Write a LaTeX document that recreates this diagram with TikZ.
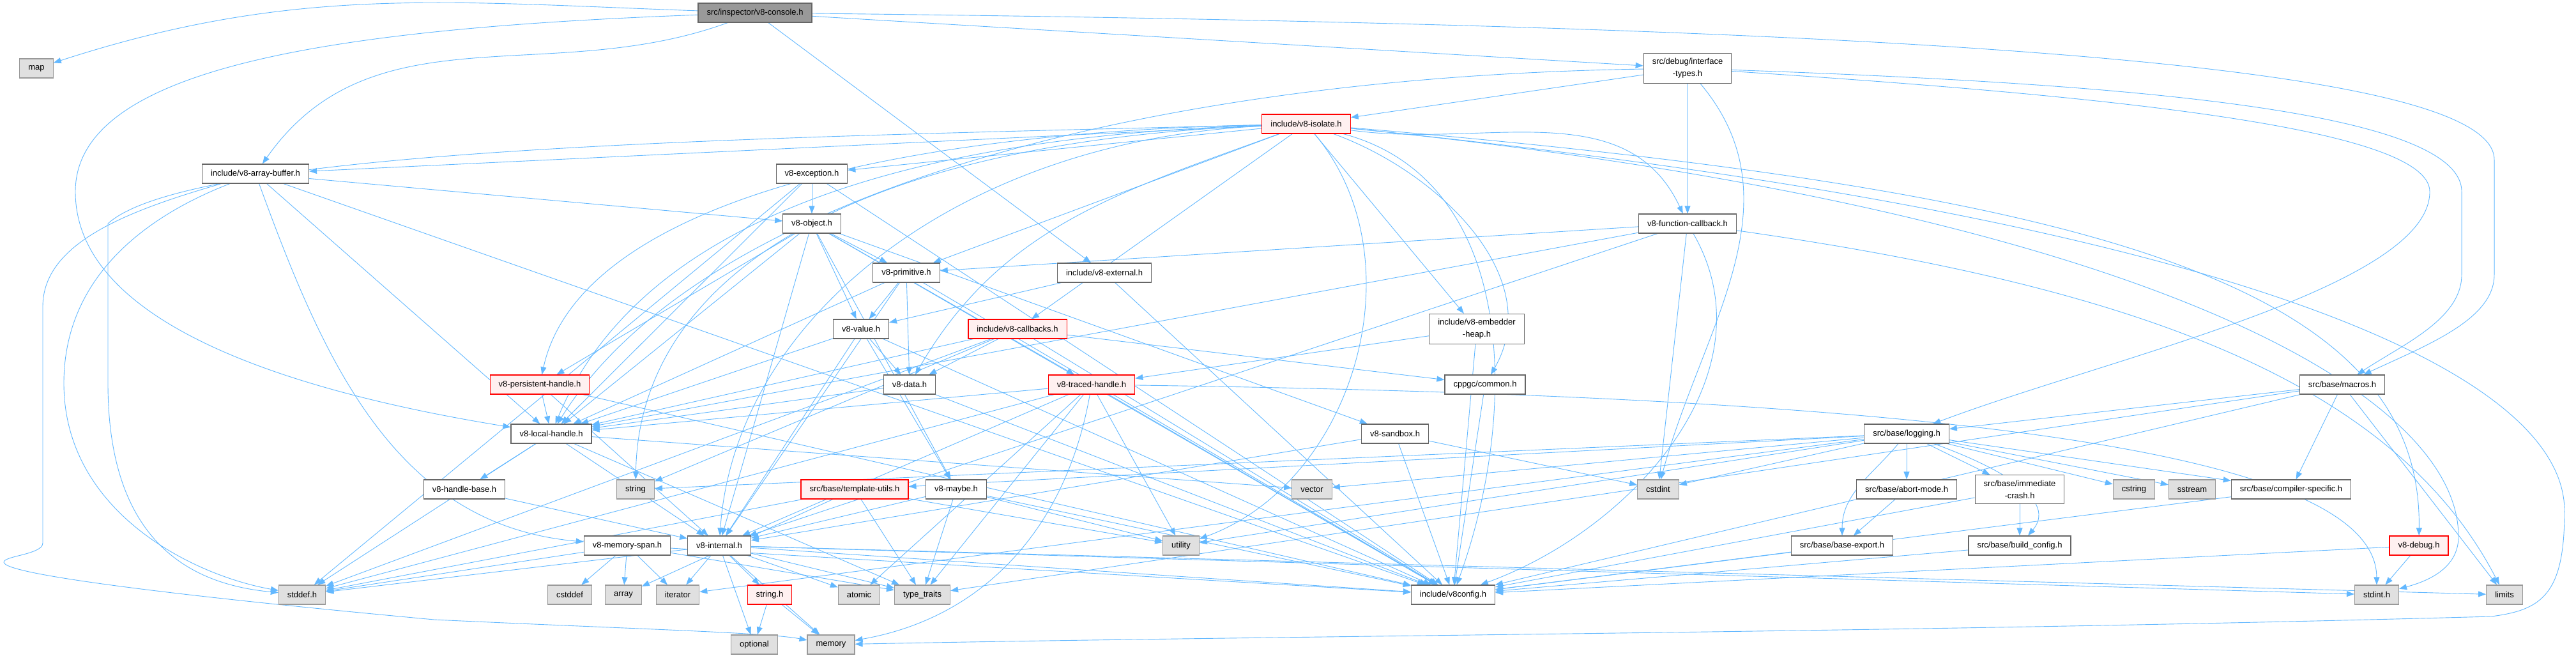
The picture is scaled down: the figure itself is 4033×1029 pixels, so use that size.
\documentclass[tikz,border=0pt]{standalone}
\usepackage{fontspec}
\setmainfont{Liberation Sans}
\usetikzlibrary{arrows.meta,backgrounds}

\definecolor{edgeblue}{HTML}{63B8FF}
\definecolor{boxgray}{HTML}{666666}
\definecolor{sysfill}{HTML}{E0E0E0}
\definecolor{sysline}{HTML}{999999}
\definecolor{redfill}{HTML}{FFF0F0}

\begin{document}
\begin{tikzpicture}[
    x=1pt, y=-1pt,
    >={Triangle[length=12pt,width=9pt]},
    every node/.style={rectangle, draw=boxgray, fill=white, line width=1.2pt,
        font=\fontsize{13}{19}\selectfont, align=center,
        inner xsep=13.5pt, inner ysep=8pt, minimum height=30pt},
    syshdr/.style={fill=sysfill, draw=sysline},
    trunc/.style={fill=redfill, draw=red},
    root/.style={fill=sysline, draw=boxgray},
    dep/.style={->, draw, color=edgeblue, line width=0.9pt}
]
\useasboundingbox (0,0) rectangle (4033,1029);

% headers
\node[root] (console) at (1182,20) {src/inspector/v8-console.h};
\node[syshdr] (map) at (57,107) {map};
\node (ifacetypes) at (2642,107) {src/debug/interface\\-types.h};
\node[trunc] (isolate) at (2045,194) {include/v8-isolate.h};
\node (arraybuf) at (400,272) {include/v8-array-buffer.h};
\node (exception) at (1271,272) {v8-exception.h};
\node (object) at (1271,350) {v8-object.h};
\node (funccb) at (2642,350) {v8-function-callback.h};
\node (primitive) at (1419,427) {v8-primitive.h};
\node (external) at (1729,427) {include/v8-external.h};
\node (value) at (1348,515) {v8-value.h};
\node[trunc] (callbacks) at (1593,515) {include/v8-callbacks.h};
\node (embedder) at (2312,515) {include/v8-embedder\\-heap.h};
\node (cppgc) at (2325,602) {cppgc/common.h};
\node (macros) at (3667,602) {src/base/macros.h};
\node (data) at (1424,602) {v8-data.h};
\node[trunc] (persistent) at (845,602) {v8-persistent-handle.h};
\node[trunc] (traced) at (1709,602) {v8-traced-handle.h};
\node (local) at (863,679) {v8-local-handle.h};
\node (sandbox) at (2184,679) {v8-sandbox.h};
\node (logging) at (2985,679) {src/base/logging.h};
\node[syshdr] (string) at (995,766) {string};
\node[syshdr] (vector) at (2054,766) {vector};
\node[syshdr] (cstdint) at (2596,766) {cstdint};
\node[syshdr] (cstring) at (3341,766) {cstring};
\node[syshdr] (sstream) at (3432,766) {sstream};
\node (compiler) at (3587,766) {src/base/compiler-specific.h};
\node (handlebase) at (727,766) {v8-handle-base.h};
\node[trunc] (templ) at (1338,766) {src/base/template-utils.h};
\node (maybe) at (1497,766) {v8-maybe.h};
\node (abort) at (2985,766) {src/base/abort-mode.h};
\node (immediate) at (3162,766) {src/base/immediate\\-crash.h};
\node (memspan) at (982,854) {v8-memory-span.h};
\node (internal) at (1126,854) {v8-internal.h};
\node[syshdr] (utility) at (1849,854) {utility};
\node (baseexport) at (2884,854) {src/base/base-export.h};
\node (buildcfg) at (3162,854) {src/base/build\_config.h};
\node[trunc] (v8debug) at (3787,854) {v8-debug.h};
\node[syshdr] (stddef) at (473,931) {stddef.h};
\node[syshdr] (cstddef) at (892,931) {cstddef};
\node[syshdr] (array) at (976,931) {array};
\node[syshdr] (iterator) at (1061,931) {iterator};
\node[trunc] (stringh) at (1205,931) {string.h};
\node[syshdr] (atomic) at (1345,931) {atomic};
\node[syshdr] (typetraits) at (1444,931) {type\_traits};
\node (v8config) at (2275,931) {include/v8config.h};
\node[syshdr] (stdint) at (3721,931) {stdint.h};
\node[syshdr] (limits) at (3921,931) {limits};
\node[syshdr] (optional) at (1181,1009) {optional};
\node[syshdr] (memory) at (1301,1009) {memory};

\begin{pgfonlayer}{background}
% includes
\path[dep]
    (console) edge (ifacetypes)
    (console) edge (external)
    (console) edge[out=178, in=18] (map)
    (console) edge[out=200, in=55] (arraybuf)
    (ifacetypes) edge (isolate)
    (ifacetypes) edge (funccb)
    (ifacetypes) edge[out=-50, in=75] (cstdint)
    (isolate) edge (arraybuf)
    (isolate) edge (exception)
    (isolate) edge (primitive)
    (isolate) edge (embedder)
    (isolate) edge[out=-8, in=115] (funccb)
    (isolate) edge (callbacks)
    (isolate) edge[out=200, in=60] (data)
    (isolate) edge[out=-50, in=20] (utility)
    (isolate) edge[out=-20, in=60] (cppgc)
    (isolate) edge[out=-15, in=70] (v8config)
    (arraybuf) edge (local)
    (arraybuf) edge[out=-70, in=175] (memspan)
    (arraybuf) edge (object)
    (arraybuf) edge (v8config)
    (exception) edge (object)
    (exception) edge (local)
    (exception) edge (stddef)
    (exception) edge (v8config)
    (object) edge (value)
    (object) edge (maybe)
    (object) edge (local)
    (object) edge (persistent)
    (object) edge (internal)
    (object) edge (primitive)
    (object) edge (sandbox)
    (object) edge (traced)
    (object) edge (v8config)
    (funccb) edge (primitive)
    (funccb) edge (local)
    (funccb) edge (internal)
    (funccb) edge (cstdint)
    (funccb) edge[out=-60, in=20] (v8config)
    (primitive) edge (value)
    (primitive) edge (data)
    (primitive) edge (local)
    (primitive) edge (internal)
    (primitive) edge (v8config)
    (value) edge (data)
    (value) edge (maybe)
    (value) edge (local)
    (value) edge (internal)
    (value) edge (v8config)
    (external) edge (value)
    (external) edge (v8config)
    (callbacks) edge (data)
    (callbacks) edge (local)
    (callbacks) edge (stddef)
    (callbacks) edge (string)
    (callbacks) edge (cppgc)
    (callbacks) edge (v8config)
    (embedder) edge (traced)
    (embedder) edge (v8config)
    (cppgc) edge (v8config)
    (data) edge (local)
    (data) edge (v8config)
    (persistent) edge (local)
    (persistent) edge (internal)
    (persistent) edge (v8config)
    (traced) edge (local)
    (traced) edge (internal)
    (traced) edge (stddef)
    (traced) edge (atomic)
    (traced) edge[out=-100, in=10] (memory)
    (traced) edge (typetraits)
    (traced) edge (utility)
    (traced) edge (v8config)
    (local) edge (handlebase)
    (local) edge (internal)
    (local) edge (stddef)
    (local) edge (typetraits)
    (local) edge (vector)
    (handlebase) edge (internal)
    (sandbox) edge (cstdint)
    (sandbox) edge (internal)
    (sandbox) edge (v8config)
    (maybe) edge (internal)
    (maybe) edge (typetraits)
    (maybe) edge (utility)
    (maybe) edge (v8config)
    (memspan) edge (stddef)
    (memspan) edge (cstddef)
    (memspan) edge (array)
    (memspan) edge (iterator)
    (memspan) edge (typetraits)
    (memspan) edge (v8config)
    (internal) edge (stddef)
    (internal) edge (stdint)
    (internal) edge (stringh)
    (internal) edge (atomic)
    (internal) edge (iterator)
    (internal) edge (limits)
    (internal) edge (memory)
    (internal) edge (optional)
    (internal) edge (typetraits)
    (internal) edge (v8config)
    (stringh) edge (optional)
    (stringh) edge (memory)
    (templ) edge (array)
    (templ) edge (typetraits)
    (templ) edge (utility)
    (templ) edge (stddef)
    (macros) edge (compiler)
    (macros) edge (limits)
    (macros) edge (logging)
    (macros) edge (typetraits)
    (macros) edge (v8config)
    (logging) edge (abort)
    (logging) edge[out=-130, in=90] (baseexport)
    (logging) edge[out=-20, in=50] (buildcfg)
    (logging) edge (immediate)
    (logging) edge (compiler)
    (logging) edge (cstdint)
    (logging) edge (cstring)
    (logging) edge (sstream)
    (logging) edge (string)
    (logging) edge (vector)
    (logging) edge (templ)
    (logging) edge (utility)
    (logging) edge (iterator)
    (abort) edge (baseexport)
    (immediate) edge (buildcfg)
    (immediate) edge (v8config)
    (baseexport) edge (v8config)
    (buildcfg) edge (v8config)
    (compiler) edge (v8config)
    (v8debug) edge (stdint)
    (v8debug) edge (v8config);

% long detours
\draw[dep] (ifacetypes) .. controls (1800,120) and (1100,300) .. (local);
\draw[dep] (isolate) .. controls (1300,210) and (900,350) .. (persistent);
\draw[dep] (isolate) .. controls (1400,215) and (1000,350) .. (local);
\draw[dep] (isolate) .. controls (1300,225) and (1000,450) .. (string);
\draw[dep] (isolate) .. controls (1500,220) and (1150,500) .. (internal);
\draw[dep] (console) .. controls (500,45) and (118,110) .. (118,300)
    .. controls (118,520) and (500,620) .. (local);
\draw[dep] (console) .. controls (3000,40) and (3905,100) .. (3905,250)
    -- (3905,430) .. controls (3905,500) and (3800,540) .. (macros);
\draw[dep] (ifacetypes) .. controls (3300,130) and (3854,170) .. (3854,300)
    -- (3854,430) .. controls (3854,500) and (3760,540) .. (macros);
\draw[dep] (ifacetypes) .. controls (3300,150) and (3804,200) .. (3804,300)
    .. controls (3804,450) and (3300,560) .. (logging);
\draw[dep] (isolate) .. controls (3300,300) and (3792,450) .. (v8debug);
\draw[dep] (isolate) .. controls (3300,320) and (3849,600) .. (3849,840)
    .. controls (3849,890) and (3800,910) .. (stdint);
\draw[dep] (isolate) .. controls (3400,330) and (4015,560) .. (4015,800)
    .. controls (4015,930) and (3980,955) .. (3900,965)
    .. controls (3000,990) and (2000,995) .. (memory);
\draw[dep] (isolate) .. controls (1200,215) and (300,230) .. (169,350)
    -- (169,600) .. controls (169,850) and (300,915) .. (stddef);
\draw[dep] (arraybuf) .. controls (250,330) and (100,420) .. (100,600)
    .. controls (100,800) and (300,900) .. (stddef);
\draw[dep] (arraybuf) .. controls (200,330) and (67,380) .. (67,480)
    -- (67,850) .. controls (67,868) and (6,870) .. (6,880)
    .. controls (6,900) and (300,935) .. (680,970)
    .. controls (1000,985) and (1200,990) .. (memory);
\draw[dep] (traced) .. controls (3000,620) and (3720,700) .. (stdint);
\draw[dep] (funccb) .. controls (3350,450) and (3750,600) .. (limits);
\end{pgfonlayer}
\end{tikzpicture}
\end{document}
